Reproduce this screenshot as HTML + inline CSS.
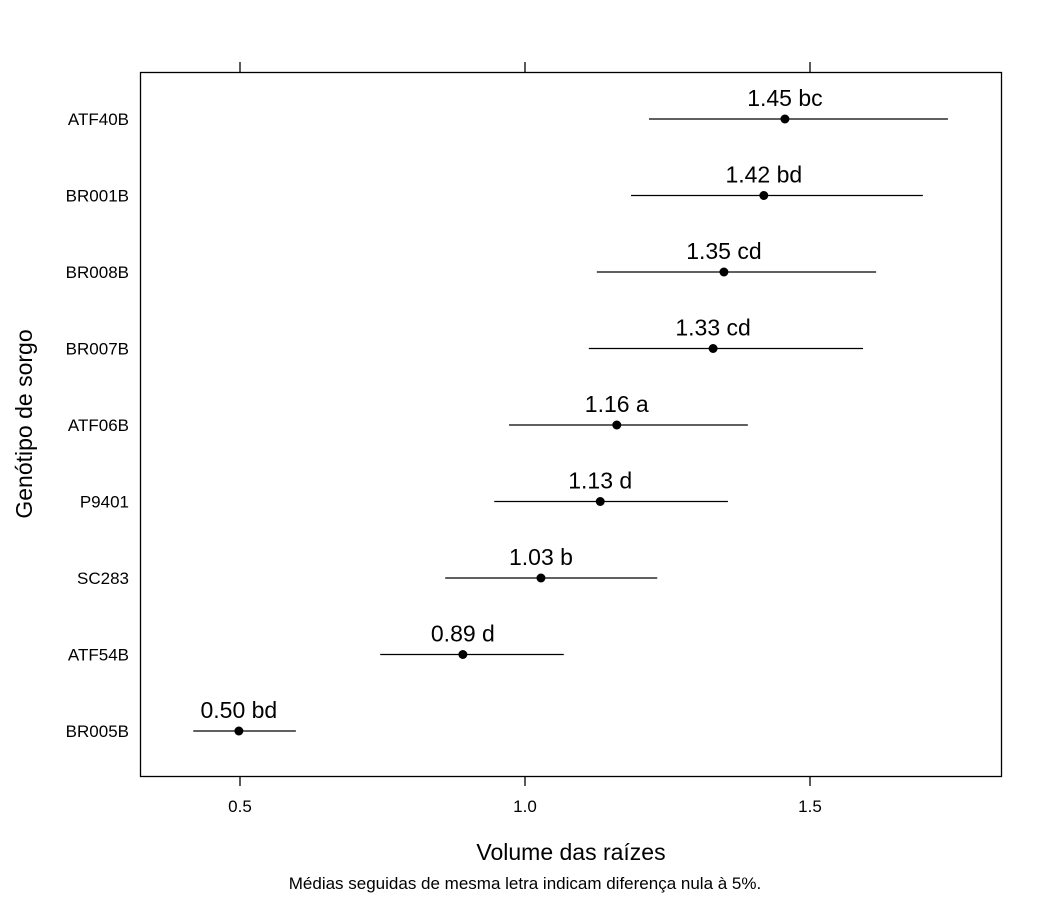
<!DOCTYPE html>
<html><head><meta charset="utf-8"><style>
body{margin:0;background:#fff}
svg text{font-family:"Liberation Sans",sans-serif;fill:#000}
</style></head><body>
<svg id="chart" width="1050" height="900" viewBox="0 0 1050 900" xmlns="http://www.w3.org/2000/svg">
<rect x="140.5" y="72.5" width="861" height="704" fill="none" stroke="#000" stroke-width="1.3"/>
<g id="ticks"></g>
<g id="marks"></g>
<text x="571" y="860" font-size="23" text-anchor="middle">Volume das raízes</text>
<text x="525" y="889" font-size="17" text-anchor="middle">Médias seguidas de mesma letra indicam diferença nula à 5%.</text>
<text x="0" y="0" font-size="23" text-anchor="middle" transform="translate(32,424) rotate(-90)">Genótipo de sorgo</text>
</svg>
<script>
const categories=["ATF40B","BR001B","BR008B","BR007B","ATF06B","P9401","SC283","ATF54B","BR005B"];
const means=[1.456,1.419,1.349,1.330,1.161,1.132,1.028,0.891,0.498];
const lowers=[1.2175,1.186,1.126,1.112,0.972,0.946,0.860,0.746,0.418];
const uppers=[1.742,1.698,1.616,1.593,1.391,1.356,1.232,1.068,0.598];
const labels=["1.45 bc","1.42 bd","1.35 cd","1.33 cd","1.16 a","1.13 d","1.03 b","0.89 d","0.50 bd"];
const xTicks=[0.5,1.0,1.5];
const xTickLabels=["0.5","1.0","1.5"];
const NS="http://www.w3.org/2000/svg";
const xs=v=>240+(v-0.5)*570;
const ys=i=>119+i*76.5;
function mk(tag,attrs,parent){const e=document.createElementNS(NS,tag);for(const k in attrs)e.setAttribute(k,attrs[k]);parent.appendChild(e);return e;}
const tg=document.getElementById('ticks'),mg=document.getElementById('marks');
xTicks.forEach((t,i)=>{
 const x=xs(t);
 const a=mk('line',{x1:x,x2:x,y1:776,y2:786,stroke:'#000','stroke-width':1.3},tg);
 
 const b=mk('line',{x1:x,x2:x,y1:62,y2:72,stroke:'#000','stroke-width':1.3},tg);
 
 const l=mk('text',{x:x,y:812,'font-size':17,'text-anchor':'middle'},tg);l.textContent=xTickLabels[i];
 
});
categories.forEach((c,i)=>{
 const y=ys(i);
 const yl=mk('text',{x:129,y:y+6,'font-size':17,'text-anchor':'end'},tg);yl.textContent=c;
 
 const ln=mk('line',{x1:xs(lowers[i]),x2:xs(uppers[i]),y1:y,y2:y,stroke:'#000','stroke-width':1.3},mg);
 
 const d=mk('circle',{cx:xs(means[i]),cy:y,r:4.5,fill:'#000'},mg);
 
 const t=mk('text',{x:xs(means[i]),y:y-13,'font-size':23,'text-anchor':'middle'},mg);t.textContent=labels[i];
 
});
</script>
</body></html>
